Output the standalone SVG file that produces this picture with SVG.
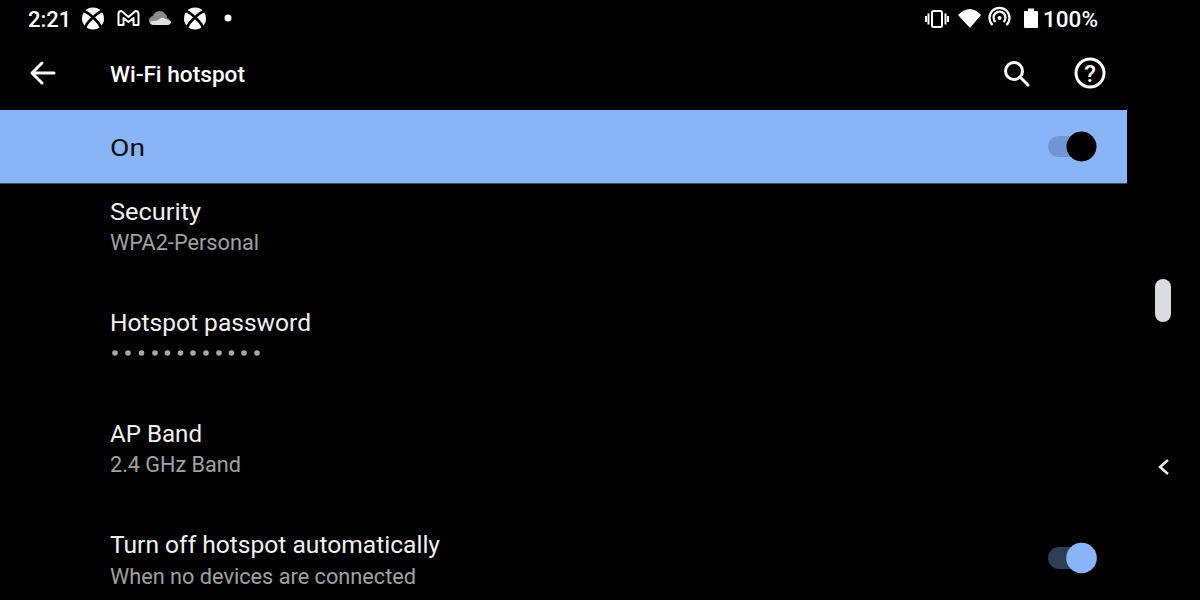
<svg xmlns="http://www.w3.org/2000/svg" width="1200" height="600" viewBox="0 0 1200 600">
<defs>
<style>
text{font-family:Roboto,"Liberation Sans",sans-serif}
.title{font-size:24px;fill:#f1f1f1}
.sub{font-size:21.5px;fill:#a0a0a0}
.st{font-size:22px;fill:#fff;font-weight:500}
.ln{fill:none;stroke:#fff;stroke-width:3;stroke-linecap:round;stroke-linejoin:round}
</style>
<g id="xbox"><circle cx="0" cy="0" r="11" fill="#fff"/><path d="M-9.500-7.500C-5.500-6.500-2.500-3.500 0-1C2.500-3.500 5.500-6.500 9.500-7.500M-8 9.500C-6.500 4.500-3 1.500 0-1C3 1.500 6.500 4.500 8 9.500" fill="none" stroke="#000" stroke-width="2.800"/></g>
</defs>
<rect width="1200" height="600" fill="#000"/>
<g id="statusbar">
<text x="28" y="27" class="st">2:21</text>
<use href="#xbox" x="93" y="18.500"/>
<path d="M118.500 25V14Q118.500 11 121.500 11L128.500 17 135.500 11Q138.500 11 138.500 14V25H133.500V18L128.500 22 123.500 18V25Z" fill="none" stroke="#fff" stroke-width="2" stroke-linejoin="round"/>
<path d="M154 25a4.500 4.500 0 0 1-1-9a7 7 0 0 1 12-2.500a5 5 0 0 1 2 4.500a3.800 3.800 0 0 1 1 7Z" fill="#8a8a8a"/>
<path d="M150 21.500a4 4 0 0 0 4 3.500h14a3.800 3.800 0 0 0 3-4l-9-3.500-5 3Z" fill="#e0e0e0"/>
<use href="#xbox" x="195" y="18.500"/>
<circle cx="228" cy="18" r="3.500" fill="#fff"/>
<g fill="none" stroke="#fff" stroke-width="2"><rect x="932" y="11" width="10" height="16" rx="1.500"/><path d="M928.500 13.500v11M945.500 13.500v11M926 16v6M948 16v6"/></g>
<path d="M958 15Q970 3 981 15L970 28Z" fill="#fff"/>
<g fill="none" stroke="#fff" stroke-width="2.200"><path d="M992.500 25a10 10 0 1 1 14 0"/><path d="M995.500 22a6 6 0 1 1 8 0"/></g><circle cx="999.500" cy="18" r="2" fill="#fff"/>
<path d="M1025 11h3v-2.500h6v2.500h3a1 1 0 0 1 1 1v15a1 1 0 0 1-1 1h-12a1 1 0 0 1-1-1v-15a1 1 0 0 1 1-1Z" fill="#fff"/>
<text x="1043" y="27" class="st" textLength="55" lengthAdjust="spacingAndGlyphs">100%</text>
</g>
<g id="toolbar">
<path class="ln" d="M32 73H54M42 63 32 73 42 83"/>
<text x="110" y="82" font-weight="500" style="font-size:22px;fill:#fff" textLength="135" lengthAdjust="spacingAndGlyphs">Wi-Fi hotspot</text>
<circle cx="1014" cy="71" r="8.500" fill="none" stroke="#fff" stroke-width="3"/><path class="ln" d="M1020 77 1028 85"/>
<circle cx="1090" cy="73" r="14" fill="none" stroke="#fff" stroke-width="3"/>
<text x="1090" y="82" text-anchor="middle" style="font-size:24px;fill:#fff;font-weight:500">?</text>
</g>
<g id="on-bar">
<rect x="0" y="110" width="1127" height="73" fill="#8ab4f8"/>
<rect x="0" y="183" width="1127" height="1" fill="#3a4c68"/>
<text x="110" y="156" class="title" style="fill:#111" textLength="35" lengthAdjust="spacingAndGlyphs">On</text>
<rect x="1048" y="136" width="34" height="21" rx="10.500" fill="#7096d1"/>
<circle cx="1081.500" cy="146.500" r="15" fill="#000"/>
</g>
<g id="security"><text x="110" y="220" class="title" textLength="91" lengthAdjust="spacingAndGlyphs">Security</text><text x="110" y="250" class="sub" textLength="149" lengthAdjust="spacingAndGlyphs">WPA2-Personal</text></g>
<g id="password"><text x="110" y="331" class="title" textLength="201" lengthAdjust="spacingAndGlyphs">Hotspot password</text>
<g fill="#a8a8a8"><circle cx="115" cy="353" r="2.800"/><circle cx="128" cy="353" r="2.800"/><circle cx="141.500" cy="353" r="2.800"/><circle cx="155" cy="353" r="2.800"/><circle cx="167.500" cy="353" r="2.800"/><circle cx="180.500" cy="353" r="2.800"/><circle cx="193" cy="353" r="2.800"/><circle cx="206" cy="353" r="2.800"/><circle cx="219" cy="353" r="2.800"/><circle cx="231.500" cy="353" r="2.800"/><circle cx="244" cy="353" r="2.800"/><circle cx="257" cy="353" r="2.800"/></g></g>
<g id="ap-band"><text x="110" y="442" class="title" textLength="92" lengthAdjust="spacingAndGlyphs">AP Band</text><text x="110" y="472" class="sub" textLength="131" lengthAdjust="spacingAndGlyphs">2.4 GHz Band</text></g>
<g id="auto-off"><text x="110" y="553" class="title" textLength="330" lengthAdjust="spacingAndGlyphs">Turn off hotspot automatically</text><text x="110" y="584" class="sub" textLength="306" lengthAdjust="spacingAndGlyphs">When no devices are connected</text>
<rect x="1048" y="547" width="34" height="22" rx="11" fill="#2f3e57"/>
<circle cx="1081.500" cy="558" r="15.300" fill="#8ab4f8"/></g>
<g id="nav"><rect x="1155" y="279" width="16" height="43" rx="8" fill="#dadce0"/>
<path d="M1168 460 1160 467 1168 474" fill="none" stroke="#e8eaed" stroke-width="2.500"/></g>
</svg>
